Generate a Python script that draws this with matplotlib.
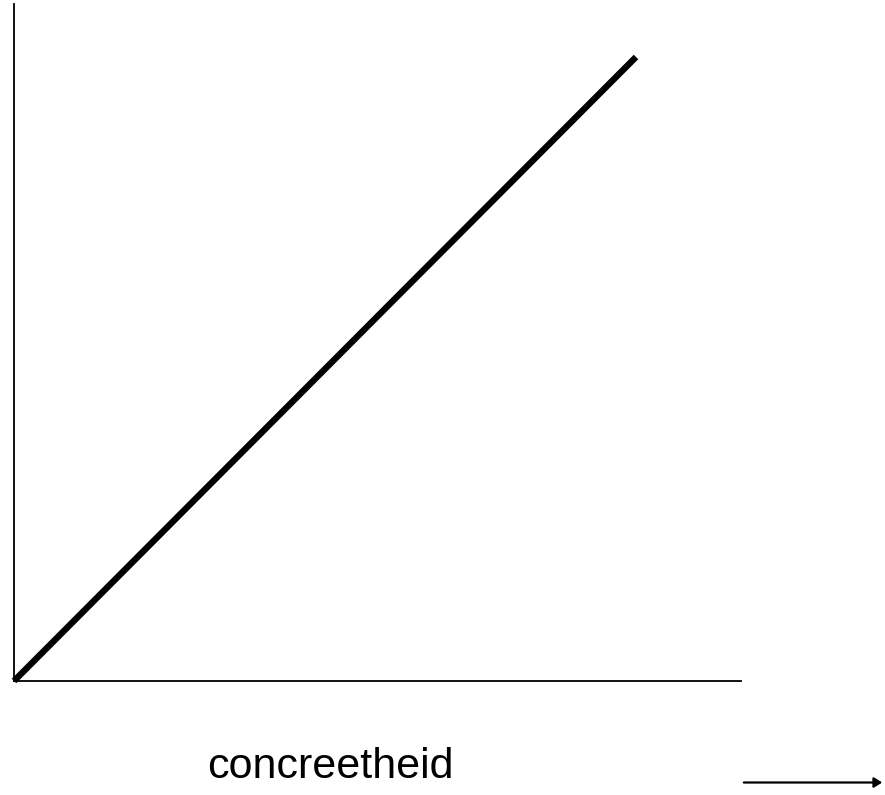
import matplotlib
matplotlib.use("Agg")
import matplotlib.pyplot as plt

# data
concreetheid = [0, 10]
waarde = [0, 10]
xlabel = "concreetheid"

W, H = 885, 795
fig = plt.figure(figsize=(W / 100, H / 100), dpi=100)
fig.patch.set_facecolor("white")

ax = fig.add_axes([14 / W, (H - 681) / H, 727 / W, 677 / H])
ax.plot(concreetheid, waarde, color="black", lw=4.6, solid_capstyle="butt", clip_on=False)
ax.set_xlim(0, 10 / ((636 - 14) / 727))
ax.set_ylim(0, 10 / ((681 - 57) / 677))
for s in ["top", "right"]:
    ax.spines[s].set_visible(False)
for s in ["left", "bottom"]:
    ax.spines[s].set_linewidth(1.3)
ax.set_xticks([])
ax.set_yticks([])

fig.text(330 / W, (H - 778) / H, xlabel, fontsize=31, family=["Liberation Sans", "DejaVu Sans"],
         ha="center", va="baseline")

fig.patches.append(matplotlib.patches.FancyArrowPatch(
    (741 / W, (H - 782.5) / H), (885 / W, (H - 782.5) / H), transform=fig.transFigure,
    arrowstyle="-|>,head_length=0.4,head_width=0.25", mutation_scale=12, lw=1.6, color="black"))

fig.savefig("out.png", dpi=100)
